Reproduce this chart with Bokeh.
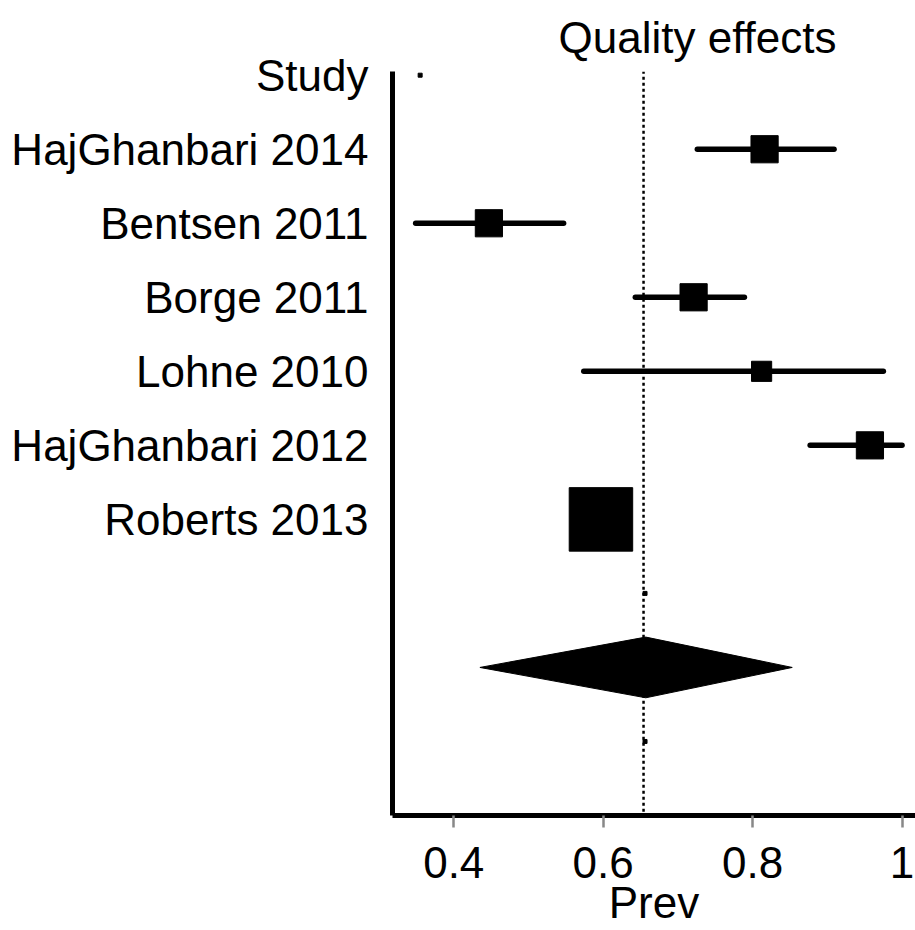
import math
from bokeh.plotting import figure
from bokeh.models import Range1d, FixedTicker, NumeralTickFormatter, ColumnDataSource
from bokeh.embed import file_html
from bokeh.resources import INLINE

# ---- data ----
studies = ["HajGhanbari 2014", "Bentsen 2011", "Borge 2011", "Lohne 2010",
           "HajGhanbari 2012", "Roberts 2013"]
prev = [0.816, 0.447, 0.721, 0.812, 0.957, 0.597]
ci_low = [0.726, 0.349, 0.643, 0.574, 0.877, 0.580]
ci_high = [0.909, 0.547, 0.789, 0.975, 1.000, 0.615]
weights = [10.0, 10.0, 10.0, 5.5, 10.0, 54.5]
study_rows = [9, 8, 7, 6, 5, 4]

header_label = "Study"
header_row = 10

pooled_est = 0.657
pooled_low = 0.435
pooled_high = 0.853
pooled_row = 2
pooled_ref = 0.654

dot_x = [0.355, 0.656, 0.656]
dot_rows = [10, 3, 1]

x_ticks = [0.4, 0.6, 0.8, 1.0]
title_text = "Quality effects"
x_label = "Prev"

FONT = "Liberation Sans"

p = figure(width=915, height=930, output_backend="svg", toolbar_location=None,
           x_range=Range1d(0.318, 1.018), y_range=Range1d(0.0, 10.05),
           min_border_left=392, min_border_right=0, min_border_top=68,
           min_border_bottom=115)
p.outline_line_color = None
p.xgrid.visible = False
p.ygrid.visible = False
p.background_fill_color = "white"
p.border_fill_color = "white"

# title
p.title.text = title_text
p.title.text_font = FONT
p.title.text_font_size = "44px"
p.title.text_font_style = "normal"
p.title.align = "left"
p.title.offset = 166
p.title.standoff = 20
p.title.text_line_height = 1.0
p.title.text_color = "black"

# reference dotted line
p.segment(x0=[pooled_ref], y0=[0.05], x1=[pooled_ref], y1=[10.05],
          line_color="black", line_width=2.5, line_dash="3 3")

# CI lines
src = ColumnDataSource(dict(
    y=study_rows, est=prev, lo=ci_low, hi=ci_high,
    size=[8.6 * math.sqrt(w) for w in weights]))
p.segment(x0="lo", y0="y", x1="hi", y1="y", source=src,
          line_color="black", line_width=5.5, line_cap="round")
p.rect(x="est", y="y", width="size", height="size", width_units="screen",
       height_units="screen", source=src, fill_color="black", line_color="black",
       line_join="round", line_width=1)

# tiny marks
p.rect(x=dot_x, y=dot_rows, width=4, height=4, width_units="screen",
       height_units="screen", fill_color="black", line_color="black")

# pooled diamond
half_h = 0.41
p.patch(x=[pooled_low, pooled_est, pooled_high, pooled_est],
        y=[pooled_row, pooled_row + half_h, pooled_row, pooled_row - half_h],
        fill_color="black", line_color="black", line_width=1)

# x axis
xa = p.xaxis[0]
xa.ticker = FixedTicker(ticks=x_ticks)
xa.formatter = NumeralTickFormatter(format="0.[0]")
xa.axis_line_width = 5
xa.axis_line_color = "black"
xa.major_tick_line_color = "#888888"
xa.major_tick_line_width = 2.5
xa.major_tick_out = 12
xa.major_tick_in = 0
xa.minor_tick_line_color = None
xa.major_label_text_font = FONT
xa.major_label_text_font_size = "44px"
xa.major_label_text_color = "black"
xa.major_label_text_line_height = 1.0
xa.major_label_standoff = 19
xa.axis_label = x_label
xa.axis_label_text_font = FONT
xa.axis_label_text_font_size = "44px"
xa.axis_label_text_font_style = "normal"
xa.axis_label_text_color = "black"
xa.axis_label_text_line_height = 1.0
xa.axis_label_standoff = -3

# y axis
ya = p.yaxis[0]
tick_rows = [header_row] + study_rows
tick_texts = [header_label] + studies
ya.ticker = FixedTicker(ticks=tick_rows)
ya.major_label_overrides = {r: t for r, t in zip(tick_rows, tick_texts)}
ya.axis_line_width = 5
ya.axis_line_color = "black"
ya.major_tick_line_color = None
ya.minor_tick_line_color = None
ya.major_tick_out = 0
ya.major_tick_in = 0
ya.major_label_text_font = FONT
ya.major_label_text_font_size = "44px"
ya.major_label_text_color = "black"
ya.major_label_standoff = 24

open("out.html", "w").write(file_html(p, INLINE))
